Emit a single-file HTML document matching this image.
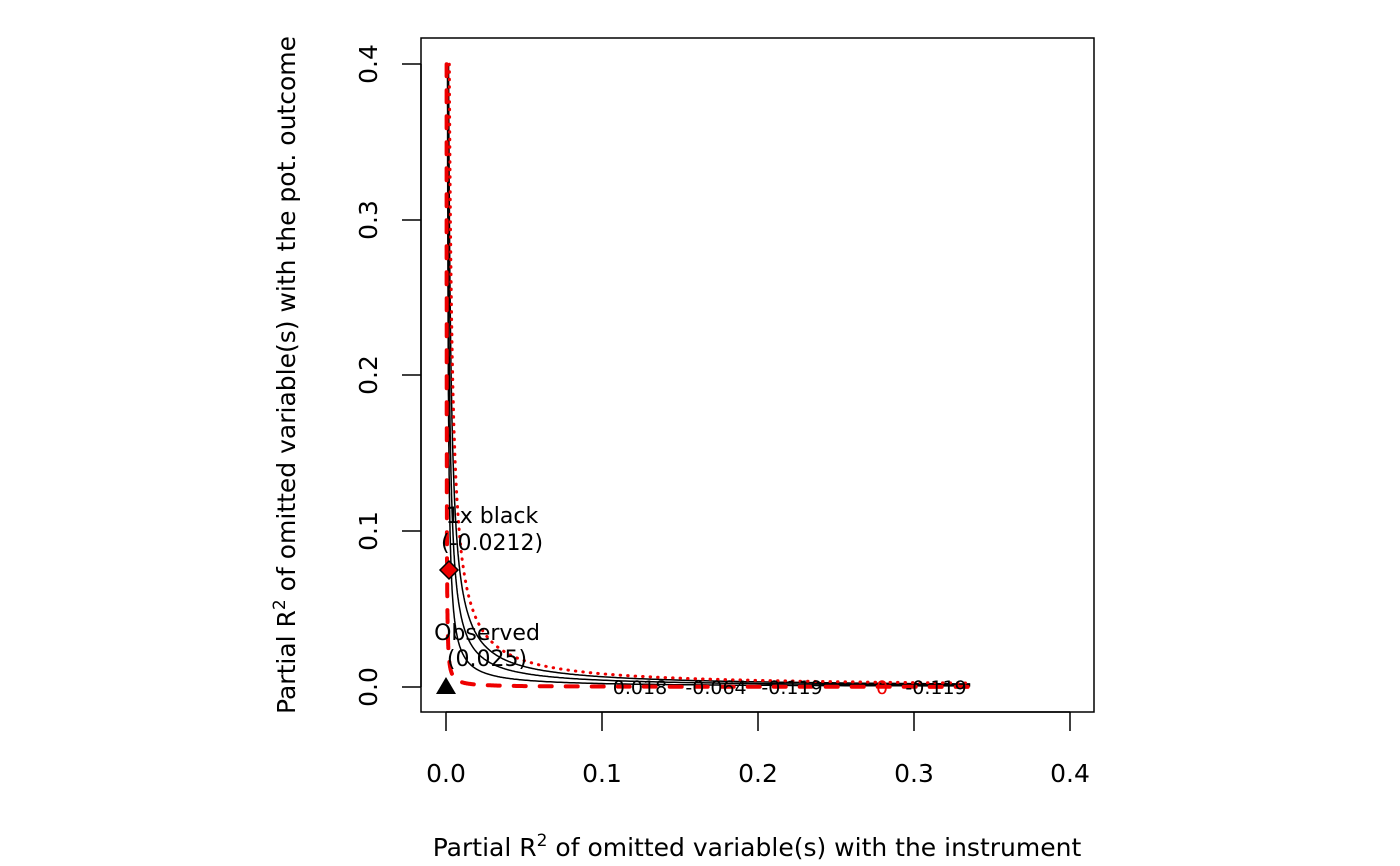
<!DOCTYPE html>
<html><head><meta charset="utf-8"><style>
html,body{margin:0;padding:0;background:#fff;}
svg{display:block;font-family:"DejaVu Sans","Liberation Sans",sans-serif;}
</style></head><body>
<svg id="s" width="1400" height="866" viewBox="0 0 1400 866">
<rect x="421" y="38" width="673" height="674" fill="none" stroke="#000" stroke-width="1.5"/>
<g stroke="#000" stroke-width="1.5">
<line x1="446" y1="712" x2="1070" y2="712"/>
<line x1="446" y1="712" x2="446" y2="731"/><line x1="602" y1="712" x2="602" y2="731"/>
<line x1="758" y1="712" x2="758" y2="731"/><line x1="914" y1="712" x2="914" y2="731"/>
<line x1="1070" y1="712" x2="1070" y2="731"/>
<line x1="421" y1="687" x2="421" y2="64"/>
<line x1="421" y1="687" x2="402" y2="687"/><line x1="421" y1="531" x2="402" y2="531"/>
<line x1="421" y1="375" x2="402" y2="375"/><line x1="421" y1="220" x2="402" y2="220"/>
<line x1="421" y1="64" x2="402" y2="64"/>
</g>
<g font-size="25" text-anchor="middle" fill="#000">
<text x="446" y="782">0.0</text><text x="602" y="782">0.1</text><text x="758" y="782">0.2</text>
<text x="914" y="782">0.3</text><text x="1070" y="782">0.4</text>
<text transform="translate(377,687) rotate(-90)">0.0</text>
<text transform="translate(377,531) rotate(-90)">0.1</text>
<text transform="translate(377,375) rotate(-90)">0.2</text>
<text transform="translate(377,220) rotate(-90)">0.3</text>
<text transform="translate(377,64) rotate(-90)">0.4</text>
<text x="757" y="856">Partial R<tspan font-size="17" dy="-10">2</tspan><tspan dy="10"> of omitted variable(s) with the instrument</tspan></text>
<text transform="translate(295,375) rotate(-90)">Partial R<tspan font-size="17" dy="-10">2</tspan><tspan dy="10"> of omitted variable(s) with the pot. outcome</tspan></text>
</g>
<g id="curves" fill="none"></g>
<polygon points="449,561 458,570 449,579 440,570" fill="#e00" stroke="#000" stroke-width="1.5"/>
<polygon points="446,677 456,694 436,694" fill="#000"/>
<g font-size="22" text-anchor="middle" fill="#000">
<text x="492" y="523">1x black</text><text x="492" y="550">(-0.0212)</text>
<text x="487" y="640">Observed</text><text x="487" y="666">(0.025)</text>
</g>
<g font-size="19" text-anchor="middle" fill="#000">
<text x="640" y="694">0.018</text><text x="716" y="694">-0.064</text><text x="792" y="694">-0.119</text>
<text x="882" y="694" fill="#e00">0</text><text x="936" y="694">-0.119</text>
</g>
</svg>
<script>
(function(){
var g=document.getElementById('curves');
function X(v){return 446+v*1560;} function Y(v){return 687-v*1557;}
function curve(k,x0,stroke,w,dash){
 var pts=[],xs=k/0.4,xe=0.336-x0;
 for(var i=0;i<=400;i++){var t=i/400;var x=xs*Math.pow(xe/xs,t);var y=k/x;pts.push(X(x+x0).toFixed(1)+','+Y(y).toFixed(1));}
 var p=document.createElementNS('http://www.w3.org/2000/svg','polyline');
 p.setAttribute('points',pts.join(' '));p.setAttribute('stroke',stroke);p.setAttribute('stroke-width',w);
 p.setAttribute('fill','none');if(dash){p.setAttribute('stroke-dasharray',dash);p.setAttribute('stroke-linecap','round');}
 g.appendChild(p);
}
curve(0.00022,0.0004,'#000',1.5);
curve(0.00044,0.0,'#000',1.5);
curve(0.00066,0.0,'#000',1.5);
curve(0.00085,0.0,'#e00',3,'0.5 7');
curve(0.00003,0.0003,'#e00',4,'12 14');
})();
</script>
</body></html>
